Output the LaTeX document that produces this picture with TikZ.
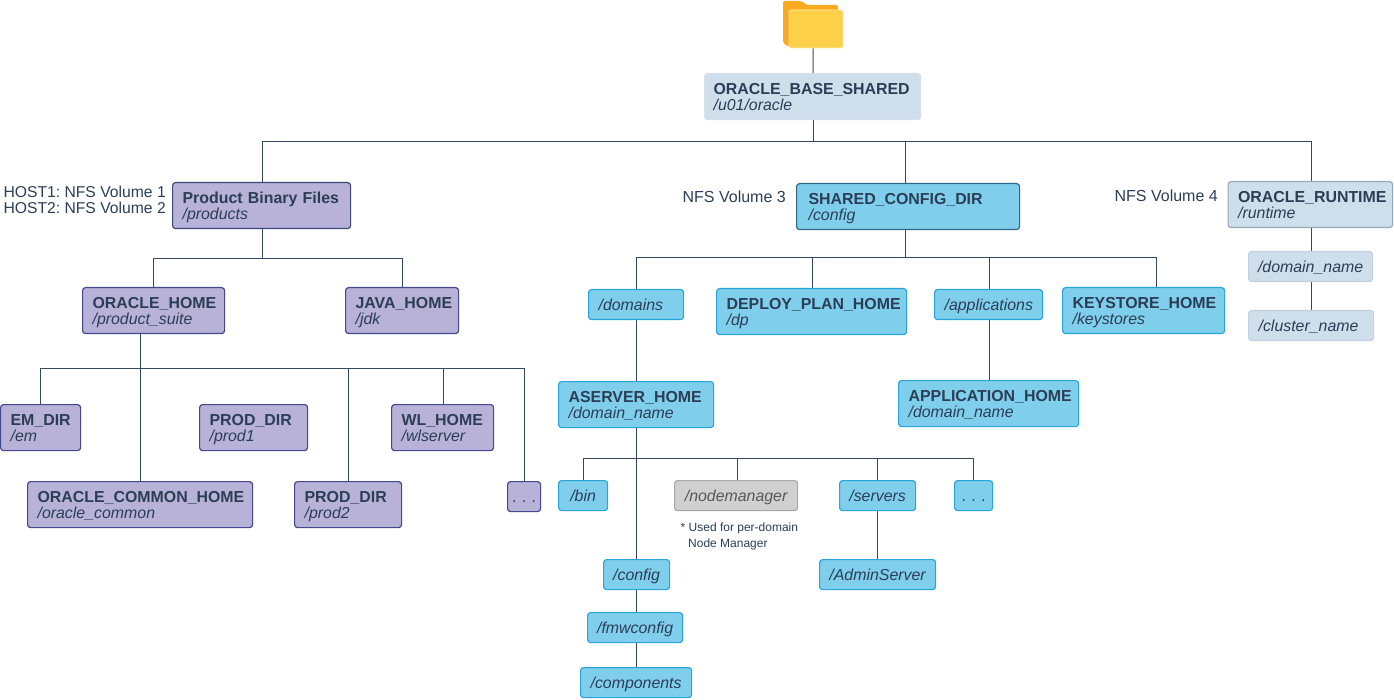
\documentclass[tikz,border=0pt]{standalone}
\usepackage{fontspec}
\setmainfont{Liberation Sans}
\usetikzlibrary{backgrounds,calc}
\AtBeginDocument{\frenchspacing}
\definecolor{inktext}{HTML}{2C3E56}
\definecolor{linkink}{HTML}{34495F}
\definecolor{purplefill}{HTML}{B8B2D8}
\definecolor{purpleedge}{HTML}{45478F}
\definecolor{bluefill}{HTML}{7FCFEC}
\definecolor{blueedge}{HTML}{2AA5DC}
\definecolor{paleblue}{HTML}{CFDEEB}
\definecolor{paleedge}{HTML}{C2D1DF}
\definecolor{greyfill}{HTML}{D0D0D0}
\definecolor{greyedge}{HTML}{A9A9A9}
\definecolor{folderback}{HTML}{FBA91F}
\definecolor{folderfront}{HTML}{FDD04A}
\tikzstyle{dirbox} = [rectangle, rounded corners=3pt, anchor=north west, line width=1.2pt, inner xsep=10pt, inner ysep=0pt, minimum height=46pt, align=left, text=inktext, font=\fontsize{15.9}{16}\selectfont, execute at begin node={\rule{0pt}{15pt}}, execute at end node={\rule[-4pt]{0pt}{4pt}}]
\tikzstyle{subbox} = [dirbox, minimum height=30pt, align=center, font=\fontsize{15.9}{16}\selectfont\itshape]
\tikzstyle{purplebox} = [draw=purpleedge, fill=purplefill]
\tikzstyle{bluebox} = [draw=blueedge, fill=bluefill]
\tikzstyle{palebox} = [draw=paleedge, fill=paleblue]
\tikzstyle{greybox} = [draw=greyedge, fill=greyfill, text=black!65]
\tikzstyle{volume} = [anchor=east, inner sep=0pt, align=left, text=inktext, font=\fontsize{16}{16}\selectfont]
\tikzstyle{link} = [line width=1pt, color=linkink]

\begin{document}
\begin{tikzpicture}[x=1pt,y=-1pt]
\useasboundingbox (0,0) rectangle (1394,700);

% Root
\node[minimum width=60pt, minimum height=47pt, inner sep=0pt, anchor=north west] (folder) at (783,0) {};
\fill[folderback, rounded corners=2pt] (783,43) -- (783,1) -- (802,1) -- (806,5) -- (838,5) -- (838,12) -- (789,47) -- cycle;
\fill[folderfront, draw=white!60!folderfront, line width=0.8pt, rounded corners=1.5pt] (789,48) -- (789,10) -- (843,10) -- (843,48) -- cycle;
\node[dirbox, palebox, draw=paleblue!90!white, inner xsep=9pt, text width=198pt] (base) at (704,73) {\textbf{ORACLE\_BASE\_SHARED}\\\textit{/u01/oracle}};

% Product binaries
\node[dirbox, purplebox, draw=purpleedge!50!linkink, text width=158pt] (products) at (172,182) {\textbf{Product Binary Files}\\\textit{/products}};
\node[dirbox, purplebox, text width=122pt] (oraclehome) at (82,287) {\textbf{ORACLE\_HOME}\\\textit{/product\_suite}};
\node[dirbox, purplebox, text width=93pt] (javahome) at (345,287) {\textbf{JAVA\_HOME}\\\textit{/jdk}};
\node[dirbox, purplebox, text width=60pt] (emdir) at (0,404) {\textbf{EM\_DIR}\\\textit{/em}};
\node[dirbox, purplebox, text width=88pt] (prodone) at (199,404) {\textbf{PROD\_DIR}\\\textit{/prod1}};
\node[dirbox, purplebox, text width=82pt] (wlhome) at (391,404) {\textbf{WL\_HOME}\\\textit{/wlserver}};
\node[dirbox, purplebox, text width=205pt] (commonhome) at (27,481) {\textbf{ORACLE\_COMMON\_HOME}\\\textit{/oracle\_common}};
\node[dirbox, purplebox, text width=87pt] (prodtwo) at (294,481) {\textbf{PROD\_DIR}\\\textit{/prod2}};
\node[subbox, purplebox, inner xsep=2pt, text width=29pt, font=\fontsize{15.9}{16}\selectfont] (moreprod) at (507,481) {. . .};

% Shared config
\node[dirbox, bluebox, draw=blueedge!30!linkink, inner xsep=12pt, text width=199pt] (shared) at (796,183) {\textbf{SHARED\_CONFIG\_DIR}\\\textit{/config}};
\node[subbox, bluebox, align=left, text width=75pt] (domains) at (588,289) {/domains};
\node[dirbox, bluebox, text width=170pt] (deploy) at (716,288) {\textbf{DEPLOY\_PLAN\_HOME}\\\textit{/dp}};
\node[subbox, bluebox, text width=88pt] (applications) at (934,289) {/applications};
\node[dirbox, bluebox, text width=142pt] (keystore) at (1062,287) {\textbf{KEYSTORE\_HOME}\\\textit{/keystores}};
\node[dirbox, bluebox, text width=135pt] (aserver) at (558,381) {\textbf{ASERVER\_HOME}\\\textit{/domain\_name}};
\node[dirbox, bluebox, text width=160pt] (apphome) at (898,380) {\textbf{APPLICATION\_HOME}\\\textit{/domain\_name}};
\node[subbox, bluebox, inner xsep=2pt, text width=45pt] (bin) at (558,480) {/bin};
\node[subbox, greybox, text width=103pt] (nodemanager) at (674,480) {/nodemanager};
\node[subbox, bluebox, inner xsep=2pt, text width=72pt] (servers) at (839,480) {/servers};
\node[subbox, bluebox, inner xsep=2pt, text width=34pt, font=\fontsize{15.9}{16}\selectfont] (moreaserver) at (954,480) {. . .};
\node[subbox, bluebox, inner xsep=2pt, text width=62pt] (configdir) at (603,559) {/config};
\node[subbox, bluebox, inner xsep=2pt, text width=91pt] (fmwconfig) at (587,612) {/fmwconfig};
\node[subbox, bluebox, inner xsep=2pt, text width=107pt] (components) at (580,667) {/components};
\node[subbox, bluebox, inner xsep=2pt, text width=112pt] (adminserver) at (819,559) {/AdminServer};

% Runtime
\node[dirbox, palebox, draw=paleedge!70!linkink, text width=144.5pt] (runtime) at (1227.5,181) {\textbf{ORACLE\_RUNTIME}\\\textit{/runtime}};
\node[subbox, palebox, inner xsep=2pt, text width=120pt] (domainname) at (1248,251) {/domain\_name};
\node[subbox, palebox, align=left, text width=105pt] (clustername) at (1248,310) {/cluster\_name};

% Volume labels
\node[volume, font=\fontsize{15.7}{16}\selectfont] (hostvol) at (166,200) {HOST1: NFS Volume 1\\HOST2: NFS Volume 2};
\node[volume] (volthree) at (786,197) {NFS Volume 3};
\node[volume] (volfour) at (1218,196) {NFS Volume 4};
\node[anchor=north west, inner sep=0pt, align=left, text=inktext, font=\fontsize{12}{16}\selectfont] (note) at (680.5,523) {* Used for per-domain\\\hspace*{7.5pt}Node Manager};

% Connector junctions
\coordinate (rootbus) at (813,142);
\coordinate (rootbusleft) at (262,142);
\coordinate (rootbusmid) at (905,142);
\coordinate (rootbusright) at (1311,142);
\coordinate (prodbus) at (262,259);
\coordinate (prodbusleft) at (153,259);
\coordinate (homebus) at (140,368);
\coordinate (homedropa) at (348,368);
\coordinate (homedropb) at (443,368);
\coordinate (homedropc) at (524,368);
\coordinate (homedropd) at (40,368);
\coordinate (confbus) at (905,258);
\coordinate (confdropa) at (636,258);
\coordinate (confdropb) at (812,258);
\coordinate (confdropc) at (989,258);
\coordinate (confdropd) at (1156,258);
\coordinate (asbus) at (636,458);
\coordinate (asdropa) at (583,458);
\coordinate (asdropb) at (737,458);
\coordinate (asdropc) at (877,458);
\coordinate (asdropd) at (973,458);

% Connectors
\begin{scope}[on background layer]
    \draw[link] (folder.south) -- (rootbus |- base.north);
    \draw[link] (rootbus |- base.south) -- (rootbus);
    \draw[link] (rootbusleft |- products.north) |- (rootbus);
    \draw[link] (rootbus) -- (rootbusright) -- (rootbusright |- runtime.north);
    \draw[link] (rootbusmid) -- (rootbusmid |- shared.north);

    \draw[link] (prodbus |- products.south) -- (prodbus);
    \draw[link] (prodbusleft |- oraclehome.north) |- (prodbus);
    \draw[link] (prodbus) -| (javahome.north);
    \draw[link] (homebus |- oraclehome.south) -- (homebus);
    \draw[link] (homebus) -- (homebus |- commonhome.north);
    \draw[link] (homedropd |- emdir.north) |- (homebus);
    \draw[link] (homebus) -- (homedropc) -- (homedropc |- moreprod.north);
    \draw[link] (homedropa) -- (homedropa |- prodtwo.north);
    \draw[link] (homedropb) -- (homedropb |- wlhome.north);

    \draw[link] (confbus |- shared.south) -- (confbus);
    \draw[link] (confdropa |- domains.north) |- (confbus);
    \draw[link] (confbus) -- (confdropd) -- (confdropd |- keystore.north);
    \draw[link] (confdropb) -- (confdropb |- deploy.north);
    \draw[link] (confdropc) -- (confdropc |- applications.north);
    \draw[link] (confdropa |- domains.south) -- (confdropa |- aserver.north);
    \draw[link] (confdropc |- applications.south) -- (confdropc |- apphome.north);

    \draw[link] (asbus |- aserver.south) -- (asbus |- configdir.north);
    \draw[link] (asdropa |- bin.north) |- (asbus);
    \draw[link] (asbus) -- (asdropd) -- (asdropd |- moreaserver.north);
    \draw[link] (asdropb) -- (asdropb |- nodemanager.north);
    \draw[link] (asdropc) -- (asdropc |- servers.north);
    \draw[link] (asdropc |- servers.south) -- (asdropc |- adminserver.north);
    \draw[link] (asbus |- configdir.south) -- (asbus |- fmwconfig.north);
    \draw[link] (asbus |- fmwconfig.south) -- (asbus |- components.north);

    \draw[link] (rootbusright |- runtime.south) -- (rootbusright |- domainname.north);
    \draw[link] (rootbusright |- domainname.south) -- (rootbusright |- clustername.north);
\end{scope}

\end{tikzpicture}
\end{document}
